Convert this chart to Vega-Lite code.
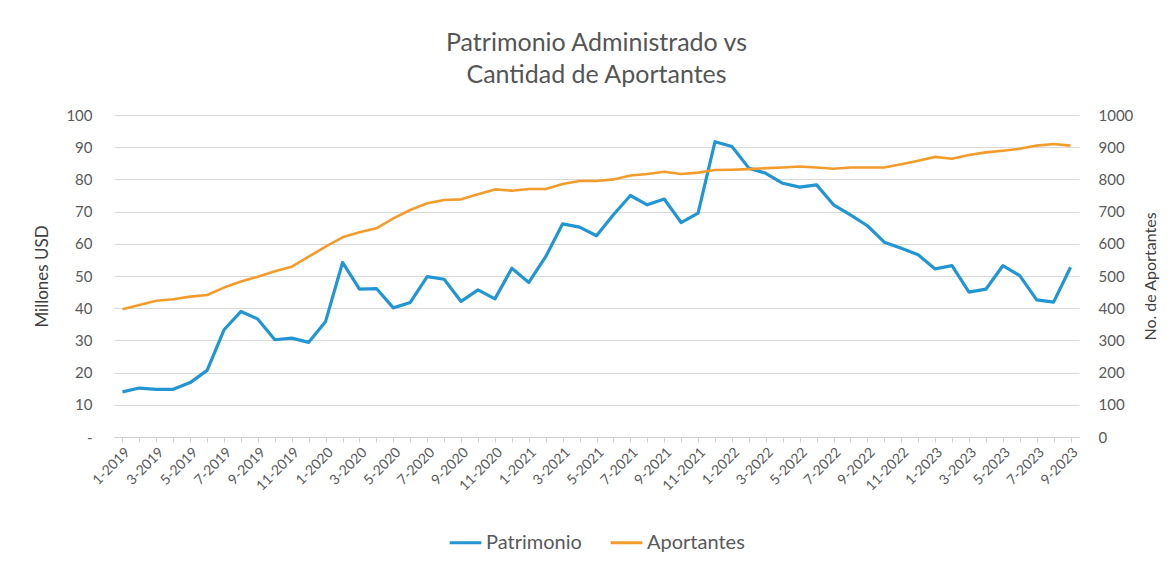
{
  "$schema": "https://vega.github.io/schema/vega-lite/v6.json",
  "width": 965,
  "height": 322,
  "autosize": {"type": "none"},
  "padding": {"left": 114, "top": 115, "right": 96, "bottom": 129},
  "background": "white",
  "config": {
    "font": "Lato",
    "view": {"stroke": null}
  },
  "title": {
    "text": ["Patrimonio Administrado vs", "Cantidad de Aportantes"],
    "fontSize": 25,
    "fontWeight": "normal",
    "color": "#555555",
    "lineHeight": 32,
    "anchor": "middle",
    "offset": 20
  },
  "data": {
    "values": [
      {"mes": "1-2019", "patrimonio": 14.0, "aportantes": 397},
      {"mes": "2-2019", "patrimonio": 15.2, "aportantes": 410},
      {"mes": "3-2019", "patrimonio": 14.8, "aportantes": 423},
      {"mes": "4-2019", "patrimonio": 14.8, "aportantes": 428},
      {"mes": "5-2019", "patrimonio": 16.9, "aportantes": 436},
      {"mes": "6-2019", "patrimonio": 20.7, "aportantes": 441},
      {"mes": "7-2019", "patrimonio": 33.3, "aportantes": 464},
      {"mes": "8-2019", "patrimonio": 39.0, "aportantes": 483},
      {"mes": "9-2019", "patrimonio": 36.6, "aportantes": 498},
      {"mes": "10-2019", "patrimonio": 30.2, "aportantes": 515},
      {"mes": "11-2019", "patrimonio": 30.7, "aportantes": 529},
      {"mes": "12-2019", "patrimonio": 29.4, "aportantes": 560},
      {"mes": "1-2020", "patrimonio": 35.9, "aportantes": 591},
      {"mes": "2-2020", "patrimonio": 54.2, "aportantes": 620},
      {"mes": "3-2020", "patrimonio": 45.9, "aportantes": 636},
      {"mes": "4-2020", "patrimonio": 46.1, "aportantes": 648},
      {"mes": "5-2020", "patrimonio": 40.1, "aportantes": 679},
      {"mes": "6-2020", "patrimonio": 41.8, "aportantes": 705},
      {"mes": "7-2020", "patrimonio": 49.8, "aportantes": 726},
      {"mes": "8-2020", "patrimonio": 49.0, "aportantes": 736},
      {"mes": "9-2020", "patrimonio": 42.1, "aportantes": 738},
      {"mes": "10-2020", "patrimonio": 45.7, "aportantes": 754},
      {"mes": "11-2020", "patrimonio": 42.9, "aportantes": 769},
      {"mes": "12-2020", "patrimonio": 52.4, "aportantes": 765},
      {"mes": "1-2021", "patrimonio": 48.0, "aportantes": 770},
      {"mes": "2-2021", "patrimonio": 56.0, "aportantes": 770},
      {"mes": "3-2021", "patrimonio": 66.2, "aportantes": 786},
      {"mes": "4-2021", "patrimonio": 65.2, "aportantes": 795},
      {"mes": "5-2021", "patrimonio": 62.5, "aportantes": 795},
      {"mes": "6-2021", "patrimonio": 69.0, "aportantes": 800},
      {"mes": "7-2021", "patrimonio": 75.0, "aportantes": 812},
      {"mes": "8-2021", "patrimonio": 72.1, "aportantes": 817},
      {"mes": "9-2021", "patrimonio": 73.9, "aportantes": 824},
      {"mes": "10-2021", "patrimonio": 66.6, "aportantes": 817},
      {"mes": "11-2021", "patrimonio": 69.5, "aportantes": 821},
      {"mes": "12-2021", "patrimonio": 91.7, "aportantes": 829},
      {"mes": "1-2022", "patrimonio": 90.2, "aportantes": 830},
      {"mes": "2-2022", "patrimonio": 83.5, "aportantes": 832},
      {"mes": "3-2022", "patrimonio": 81.9, "aportantes": 835},
      {"mes": "4-2022", "patrimonio": 78.8, "aportantes": 837},
      {"mes": "5-2022", "patrimonio": 77.6, "aportantes": 840},
      {"mes": "6-2022", "patrimonio": 78.3, "aportantes": 837},
      {"mes": "7-2022", "patrimonio": 72.1, "aportantes": 833},
      {"mes": "8-2022", "patrimonio": 69.0, "aportantes": 837},
      {"mes": "9-2022", "patrimonio": 65.6, "aportantes": 837},
      {"mes": "10-2022", "patrimonio": 60.5, "aportantes": 837},
      {"mes": "11-2022", "patrimonio": 58.6, "aportantes": 847},
      {"mes": "12-2022", "patrimonio": 56.6, "aportantes": 858},
      {"mes": "1-2023", "patrimonio": 52.2, "aportantes": 870},
      {"mes": "2-2023", "patrimonio": 53.2, "aportantes": 864},
      {"mes": "3-2023", "patrimonio": 45.0, "aportantes": 876},
      {"mes": "4-2023", "patrimonio": 45.9, "aportantes": 884},
      {"mes": "5-2023", "patrimonio": 53.2, "aportantes": 889},
      {"mes": "6-2023", "patrimonio": 50.1, "aportantes": 895},
      {"mes": "7-2023", "patrimonio": 42.6, "aportantes": 905},
      {"mes": "8-2023", "patrimonio": 41.9, "aportantes": 910},
      {"mes": "9-2023", "patrimonio": 52.7, "aportantes": 905}
    ]
  },
  "encoding": {
    "x": {
      "field": "mes",
      "type": "ordinal",
      "sort": null,
      "scale": {"type": "point", "padding": 0.5},
      "axis": {
        "title": null,
        "labelAngle": -45,
        "labelFontSize": 14,
        "labelColor": "#595959",
        "labelPadding": 3,
        "labelOverlap": false,
        "labelExpr": "toNumber(split(datum.label, '-')[0]) % 2 == 1 ? datum.label : ''",
        "domainColor": "#d0d0d0",
        "tickColor": "#d0d0d0",
        "tickSize": 5,
        "grid": false
      }
    }
  },
  "layer": [
    {
      "mark": {"type": "line", "strokeWidth": 3.2, "strokeJoin": "round"},
      "encoding": {
        "y": {
          "field": "patrimonio",
          "type": "quantitative",
          "scale": {"domain": [0, 100], "nice": false},
          "axis": {
            "title": "Millones USD",
            "titleFontSize": 17,
            "titleFontWeight": "normal",
            "titleColor": "#404040",
            "titlePadding": 14,
            "values": [0, 10, 20, 30, 40, 50, 60, 70, 80, 90, 100],
            "labelExpr": "datum.value == 0 ? '-' : datum.label",
            "labelFontSize": 15,
            "labelColor": "#595959",
            "labelPadding": 22,
            "domain": false,
            "ticks": false,
            "tickSize": 0,
            "grid": true,
            "gridColor": "#d9d9d9"
          }
        },
        "color": {
          "datum": "Patrimonio",
          "scale": {"domain": ["Patrimonio", "Aportantes"], "range": ["#2196D3", "#F39C2B"]},
          "legend": {
            "title": null,
            "orient": "none",
            "direction": "horizontal",
            "legendX": 334,
            "legendY": 410,
            "symbolType": "stroke",
            "symbolSize": 1000,
            "symbolStrokeWidth": 3,
            "labelFontSize": 20,
            "labelColor": "#595959",
            "labelOffset": 3,
            "columnPadding": 22
          }
        }
      }
    },
    {
      "mark": {"type": "line", "strokeWidth": 2.6, "strokeJoin": "round"},
      "encoding": {
        "y": {
          "field": "aportantes",
          "type": "quantitative",
          "scale": {"domain": [0, 1000], "nice": false},
          "axis": {
            "orient": "right",
            "title": "No. de Aportantes",
            "titleAngle": -90,
            "titleFontSize": 16,
            "titleFontWeight": "normal",
            "titleColor": "#404040",
            "titlePadding": 26,
            "values": [0, 100, 200, 300, 400, 500, 600, 700, 800, 900, 1000],
            "format": "d",
            "labelFontSize": 15,
            "labelColor": "#595959",
            "labelPadding": 19,
            "domain": false,
            "ticks": false,
            "tickSize": 0,
            "grid": false
          }
        },
        "color": {"datum": "Aportantes"}
      }
    }
  ],
  "resolve": {"scale": {"y": "independent"}}
}
